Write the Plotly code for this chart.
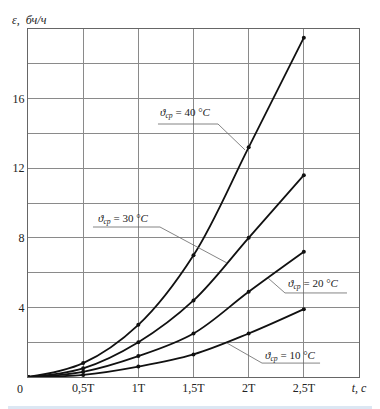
import plotly.graph_objects as go

# Data (x in units of T)
x_vals = [0, 0.5, 1.0, 1.5, 2.0, 2.5]
eps_40 = [0, 0.8, 3.0, 7.0, 13.2, 19.5]
eps_30 = [0, 0.5, 2.0, 4.4, 8.0, 11.6]
eps_20 = [0, 0.3, 1.2, 2.5, 4.9, 7.2]
eps_10 = [0, 0.12, 0.6, 1.3, 2.5, 3.9]
series_temps = ["40", "30", "20", "10"]

x_tickvals = [0, 0.5, 1.0, 1.5, 2.0, 2.5, 3.0]
x_ticktext = ["", "0,5T", "1T", "1,5T", "2T", "2,5T", "<i>t, c</i>"]
y_tickvals = [0, 2, 4, 6, 8, 10, 12, 14, 16, 18, 20]
y_ticktext = ["", "", "4", "", "8", "", "12", "", "16", "", ""]

FONT = "Liberation Serif"
TXT = "#222222"
fig = go.Figure()
for ys in [eps_40, eps_30, eps_20, eps_10]:
    fig.add_trace(go.Scatter(
        x=x_vals, y=ys, mode="lines+markers",
        line=dict(color="#111111", width=1.8, shape="spline", smoothing=1.0),
        marker=dict(color="#111111", size=4),
        showlegend=False, hoverinfo="skip"))

# label layout: (temp, text left x, y, underline x0, x1, y, leader end x, y)
labels = [
    ("40", 1.178, 15.17, 1.178, 1.722, 14.54, 1.967, 13.05, "x1"),
    ("30", 0.615, 9.08, 0.589, 1.196, 8.62, 1.804, 6.55, "x1"),
    ("20", 2.340, 5.34, 2.329, 2.891, 4.83, 2.175, 5.69, "x0"),
    ("10", 2.130, 1.21, 2.121, 2.647, 0.80, 1.804, 1.95, "x0"),
]
for t, tx, ty, ux0, ux1, uy, lx, ly, side in labels:
    fig.add_annotation(x=tx, y=ty, xref="x", yref="y", showarrow=False,
                       xanchor="left", yanchor="middle",
                       text="<i>ϑ</i><sub><i>ср</i></sub> = " + t + " °<i>C</i>",
                       font=dict(family=FONT, size=11, color=TXT))
    fig.add_shape(type="line", x0=ux0, x1=ux1, y0=uy, y1=uy, xref="x", yref="y",
                  line=dict(color="#666666", width=0.8))
    sx = ux1 if side == "x1" else ux0
    fig.add_shape(type="line", x0=sx, x1=lx, y0=uy, y1=ly, xref="x", yref="y",
                  line=dict(color="#666666", width=0.8))

fig.add_annotation(x=-0.024, y=0, xref="paper", yref="paper", xanchor="center",
                   yanchor="top", yshift=-3,
                   showarrow=False, text="0", font=dict(family=FONT, size=12, color=TXT))
fig.add_annotation(x=-0.055, y=1.027, xref="paper", yref="paper", showarrow=False,
                   xanchor="left", yanchor="middle",
                   text="<i>ε,  бч/ч</i>", font=dict(family=FONT, size=12, color=TXT))
fig.add_shape(type="rect", xref="paper", yref="paper", x0=-0.1, x1=1.1, y0=-0.092, y1=-0.083,
              fillcolor="#dce7f3", line=dict(width=0), layer="below")

axis_common = dict(showgrid=True, gridcolor="#8a8a8a", gridwidth=1,
                   showline=True, linecolor="#666666", linewidth=1, mirror=True,
                   zeroline=False, ticks="", automargin=False,
                   tickfont=dict(family=FONT, size=12, color=TXT))
fig.update_xaxes(range=[0, 3], tickvals=x_tickvals, ticktext=x_ticktext, **axis_common)
fig.update_yaxes(range=[0, 20], tickvals=y_tickvals, ticktext=y_ticktext, **axis_common)
# page body adds an 8px offset, so the figure is sized to 372x401
fig.update_layout(template="none", width=372, height=401,
                  margin=dict(l=20, r=21, t=21, b=32, autoexpand=False),
                  font=dict(family=FONT, size=12, color=TXT),
                  plot_bgcolor="white", paper_bgcolor="white")
fig.write_html("out.html")
